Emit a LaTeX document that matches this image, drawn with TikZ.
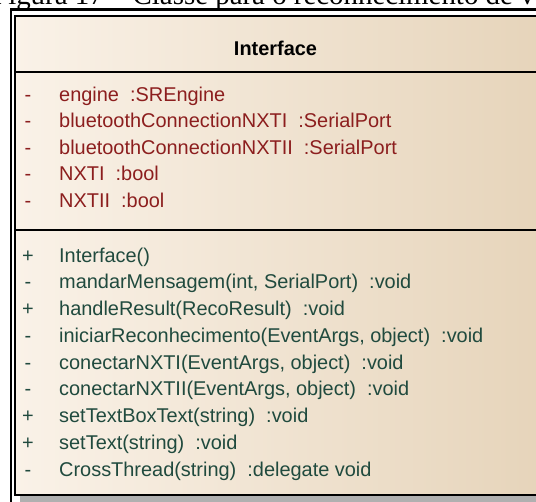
\documentclass[tikz,border=0pt]{standalone}
\usepackage{fontspec}
\setmainfont{Liberation Sans}
\newfontfamily\capfont{Liberation Serif}
\definecolor{attrred}{RGB}{140,30,30}
\definecolor{methgreen}{RGB}{32,74,62}
\definecolor{bgL}{RGB}{250,242,232}
\definecolor{bgR}{RGB}{230,212,186}
\definecolor{shadowgray}{RGB}{176,176,176}
\tikzset{
  member/.style={anchor=base west, inner sep=0pt, font=\fontsize{20}{24}\selectfont},
  vis/.style={anchor=base, inner sep=0pt, font=\fontsize{20}{24}\selectfont},
  attr/.style={member, text=attrred},
  meth/.style={member, text=methgreen},
  attrvis/.style={vis, text=attrred},
  methvis/.style={vis, text=methgreen},
  boxline/.style={line width=2bp, draw=black},
}
\begin{document}
\begin{tikzpicture}[x=1bp,y=-1bp]
\useasboundingbox (0,0) rectangle (536,502);
\begin{scope}
\clip (0,0) rectangle (536,502);
% cut-off caption
\node[anchor=base west, inner sep=0pt, font=\capfont\fontsize{29}{31}\selectfont] (cap) at (-8,5) {Figura 17 – Classe para o reconhecimento de voz};
% shadow
\fill[shadowgray] (20,496) rectangle (545,503);
% box
\shade[left color=bgL, right color=bgR] (14.5,16) rectangle (545,495);
\draw[boxline] (14.5,16) rectangle (545,495);
\draw[boxline] (14.5,72) -- (545,72);
\draw[boxline] (14.5,229.5) -- (545,229.5);
% outer frame
\draw[line width=2.2bp] (11,503) -- (11,9.5) -- (545,9.5);
\end{scope}
% title
\node[anchor=base, inner sep=0pt, font=\fontsize{20}{24}\selectfont\bfseries] (title) at (275.5,56) {Interface};
% attributes
\node[attrvis] (va1) at (28,101.5) {-};
\node[attr] (a1) at (59,101.5) {engine\ \ :SREngine};
\node[attrvis] (va2) at (28,128) {-};
\node[attr] (a2) at (59,128) {bluetoothConnectionNXTI\ \ :SerialPort};
\node[attrvis] (va3) at (28,154.5) {-};
\node[attr] (a3) at (59,154.5) {bluetoothConnectionNXTII\ \ :SerialPort};
\node[attrvis] (va4) at (28,181) {-};
\node[attr] (a4) at (59,181) {NXTI\ \ :bool};
\node[attrvis] (va5) at (28,207.5) {-};
\node[attr] (a5) at (59,207.5) {NXTII\ \ :bool};
% methods
\node[methvis] (vm1) at (28,262) {+};
\node[meth] (m1) at (59,262) {Interface()};
\node[methvis] (vm2) at (28,288.75) {-};
\node[meth] (m2) at (59,288.75) {mandarMensagem(int, SerialPort)\ \ :void};
\node[methvis] (vm3) at (28,315.5) {+};
\node[meth] (m3) at (59,315.5) {handleResult(RecoResult)\ \ :void};
\node[methvis] (vm4) at (28,342.25) {-};
\node[meth] (m4) at (59,342.25) {iniciarReconhecimento(EventArgs, object)\ \ :void};
\node[methvis] (vm5) at (28,369) {-};
\node[meth] (m5) at (59,369) {conectarNXTI(EventArgs, object)\ \ :void};
\node[methvis] (vm6) at (28,395.75) {-};
\node[meth] (m6) at (59,395.75) {conectarNXTII(EventArgs, object)\ \ :void};
\node[methvis] (vm7) at (28,422.5) {+};
\node[meth] (m7) at (59,422.5) {setTextBoxText(string)\ \ :void};
\node[methvis] (vm8) at (28,449.25) {+};
\node[meth] (m8) at (59,449.25) {setText(string)\ \ :void};
\node[methvis] (vm9) at (28,476) {-};
\node[meth] (m9) at (59,476) {CrossThread(string)\ \ :delegate void};
\end{tikzpicture}
\end{document}
